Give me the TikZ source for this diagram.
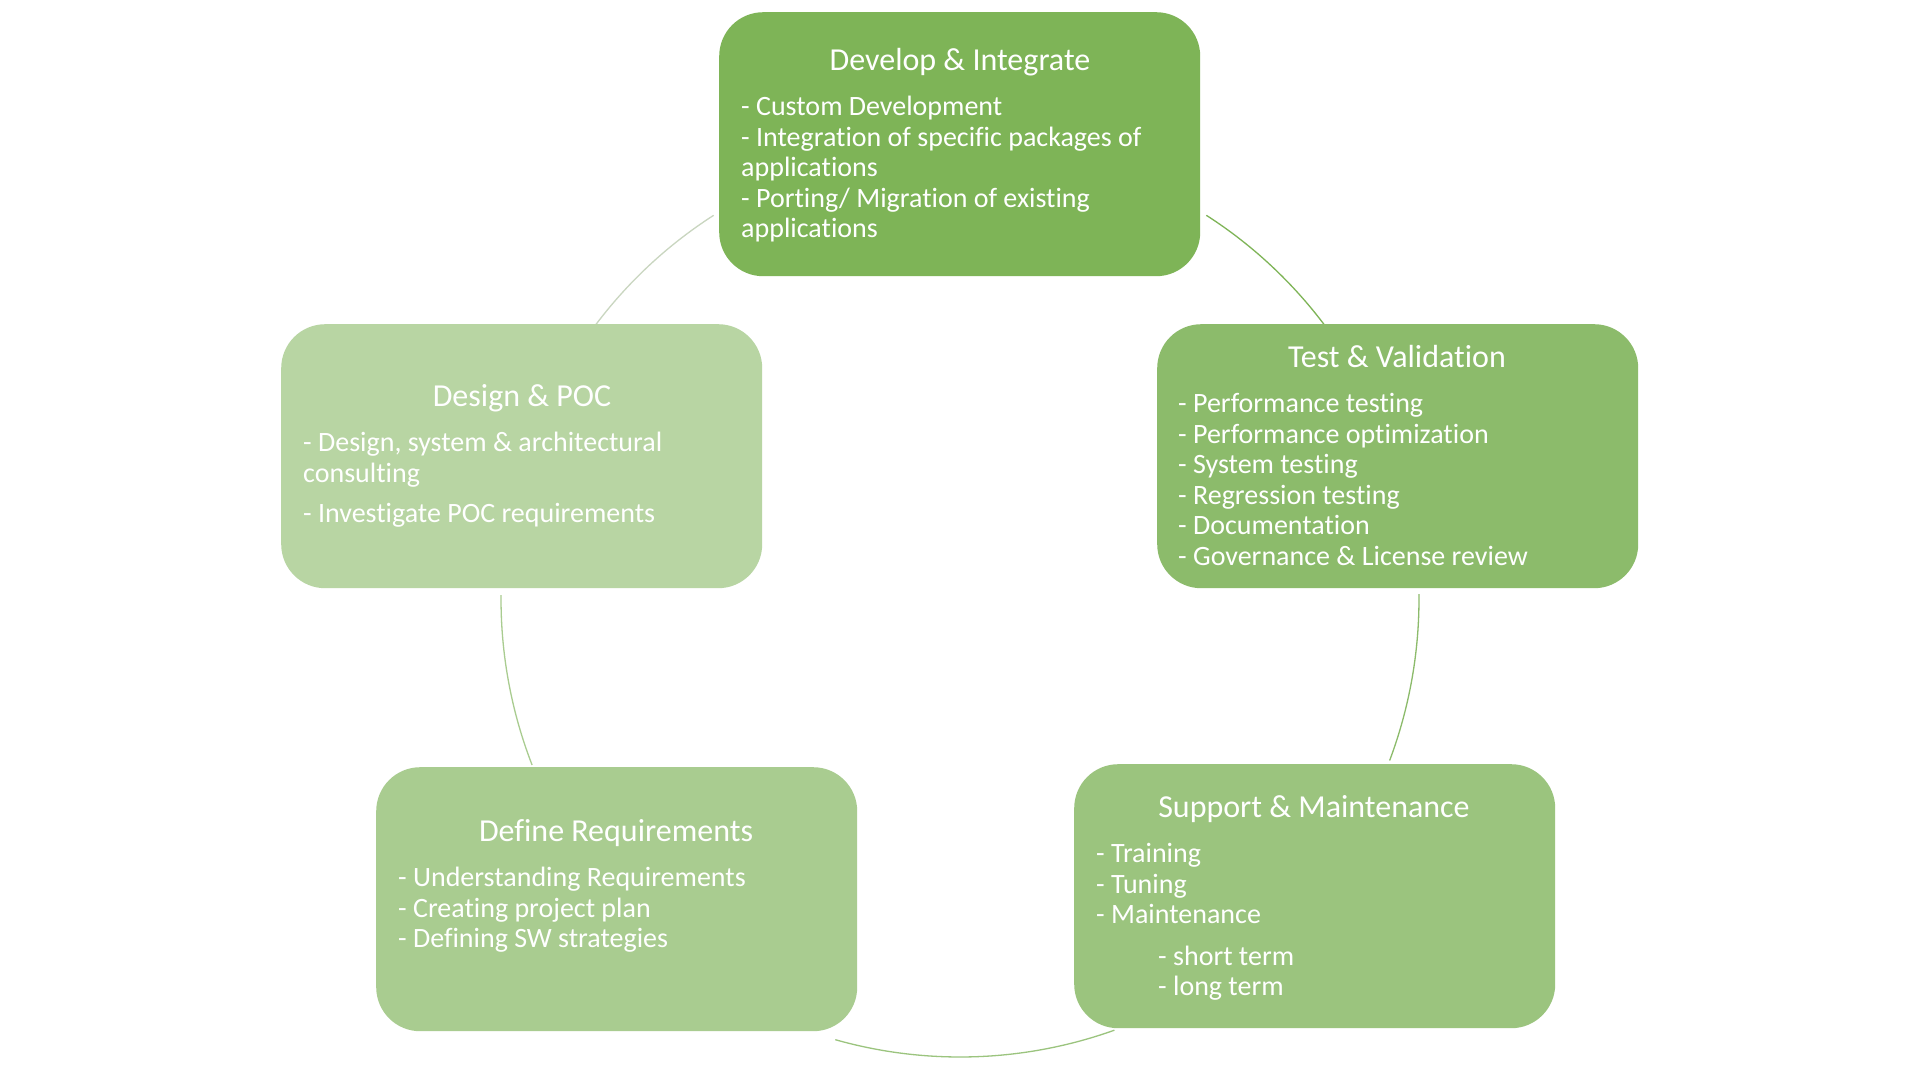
\documentclass[tikz,border=0pt]{standalone}
\usepackage{fontspec}
\setmainfont{Carlito}[RawFeature=-liga]
\definecolor{cdev}{HTML}{7EB457}
\definecolor{ctest}{HTML}{8CBB6B}
\definecolor{csup}{HTML}{9BC47E}
\definecolor{cdef}{HTML}{A9CC90}
\definecolor{cdes}{HTML}{B8D5A3}
\definecolor{carcdes}{HTML}{C9D6C0}
\begin{document}
\begin{tikzpicture}[x=1pt,y=-1pt,
  box/.style={rounded corners=44pt, inner sep=0pt, anchor=north west, minimum width=481pt, minimum height=264pt},
  ttl/.style={text=white, font=\fontsize{32}{38}\selectfont, anchor=base, inner sep=0pt},
  body/.style={text=white, font=\fontsize{28}{30.6}\selectfont, anchor=base west, inner sep=0pt},
  ring/.style={line width=1.3pt}]
\useasboundingbox[fill=white] (0,0) rectangle (1920,1080);

% cycle arcs
\coordinate (c) at (960,599);
\draw[ring, cdev]    (c) ++(57.3:456pt)  arc[start angle=57.3,  end angle=35.6,   radius=456pt];
\draw[ring, ctest]   (c) ++(0.6:459pt)   arc[start angle=0.6,   end angle=-20.6,  radius=459pt];
\draw[ring, csup]    (c) ++(-70.3:458pt) arc[start angle=-70.3, end angle=-105.8, radius=458pt];
\draw[ring, cdef]    (c) ++(201.2:459pt) arc[start angle=201.2, end angle=179.5,  radius=459pt];
\draw[ring, carcdes] (c) ++(144.4:456pt) arc[start angle=144.4, end angle=122.7,  radius=456pt];

% boxes
\node[box, fill=cdev]  (dev)  at (719,12)   {};
\node[box, fill=ctest] (test) at (1157,324) {};
\node[box, fill=csup]  (sup)  at (1074,764) {};
\node[box, fill=cdef]  (def)  at (376,767)  {};
\node[box, fill=cdes]  (des)  at (281,324)  {};

% titles
\node[ttl] (devt)  at (960,70.5)  {Develop \& Integrate};
\node[ttl] (testt) at (1397,367.5) {Test \& Validation};
\node[ttl] (supt)  at (1314,817.5) {Support \& Maintenance};
\node[ttl] (deft)  at (616,841.5) {Define Requirements};
\node[ttl] (dest)  at (522,406.5) {Design \& POC};

% bodies
\node[body] (devb) at (741,115.5) {\begin{tabular}[t]{@{}l@{}}- Custom Development\\- Integration of specific packages of\\applications\\- Porting/ Migration of existing\\applications\end{tabular}};
\node[body] (testb) at (1178,412.5) {\begin{tabular}[t]{@{}l@{}}- Performance testing\\- Performance optimization\\- System testing\\- Regression testing\\- Documentation\\- Governance \& License review\end{tabular}};
\node[body] (supb) at (1096,862.5) {\begin{tabular}[t]{@{}l@{}}- Training\\- Tuning\\- Maintenance\\[11pt]\hspace*{62pt}- short term\\\hspace*{62pt}- long term\end{tabular}};
\node[body] (defb) at (398,886.5) {\begin{tabular}[t]{@{}l@{}}- Understanding Requirements\\- Creating project plan\\- Defining SW strategies\end{tabular}};
\node[body] (desb) at (303,451.5) {\begin{tabular}[t]{@{}l@{}}- Design, system \& architectural\\consulting\\[10pt]- Investigate POC requirements\end{tabular}};
\end{tikzpicture}
\end{document}
